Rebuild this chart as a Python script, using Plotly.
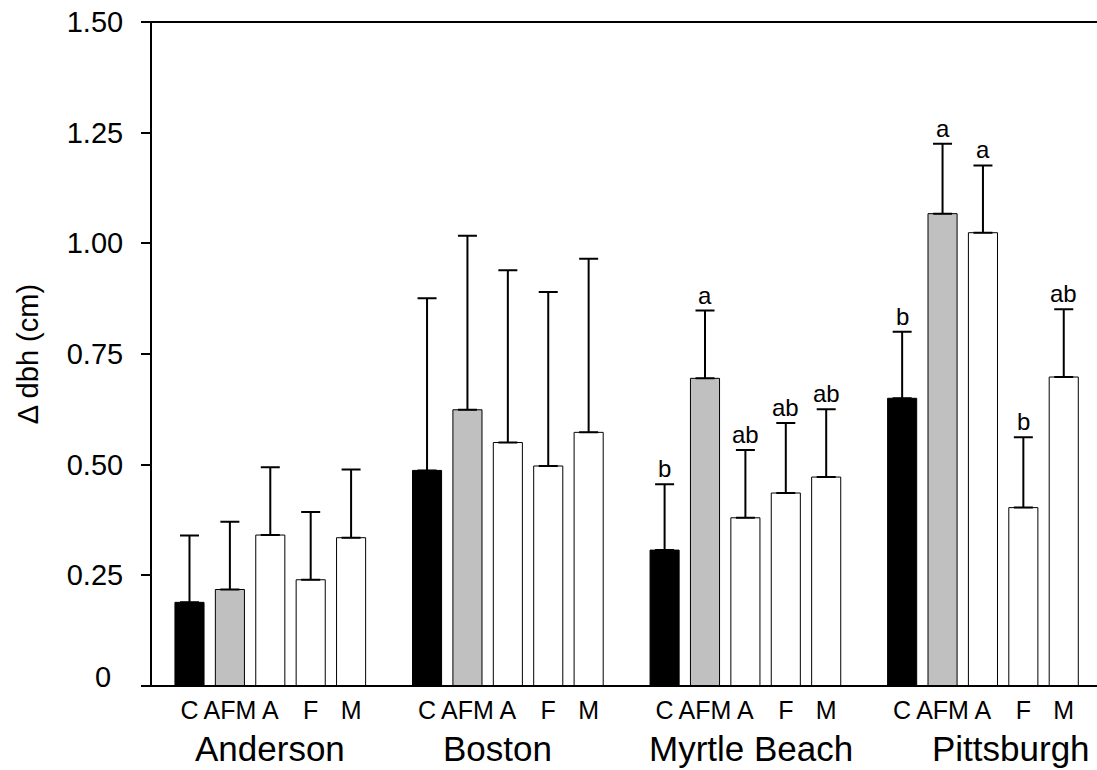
import plotly.graph_objects as go

# Sites and treatments
sites = ["Anderson", "Boston", "Myrtle Beach", "Pittsburgh"]
treatments = ["C", "AFM", "A", "F", "M"]

# Mean change in dbh (cm) per treatment, one value per site
mean_C = [0.189, 0.487, 0.307, 0.650]
mean_AFM = [0.218, 0.624, 0.695, 1.067]
mean_A = [0.341, 0.550, 0.380, 1.024]
mean_F = [0.240, 0.497, 0.436, 0.403]
mean_M = [0.335, 0.573, 0.472, 0.698]

# Upper error (SE) per treatment, one value per site
err_C = [0.151, 0.389, 0.149, 0.150]
err_AFM = [0.153, 0.393, 0.153, 0.158]
err_A = [0.153, 0.389, 0.153, 0.152]
err_F = [0.153, 0.393, 0.158, 0.159]
err_M = [0.154, 0.392, 0.153, 0.153]

# Significance letters (empty = none shown)
letters_C = ["", "", "b", "b"]
letters_AFM = ["", "", "a", "a"]
letters_A = ["", "", "ab", "a"]
letters_F = ["", "", "ab", "b"]
letters_M = ["", "", "ab", "ab"]

# y tick labels
y_ticks = [0, 0.25, 0.50, 0.75, 1.00, 1.25, 1.50]
y_tick_text = ["", "0.25", "0.50", "0.75", "1.00", "1.25", "1.50"]

means = [mean_C, mean_AFM, mean_A, mean_F, mean_M]
errs = [err_C, err_AFM, err_A, err_F, err_M]
letters = [letters_C, letters_AFM, letters_A, letters_F, letters_M]
fills = ["#000000", "#c0c0c0", "#ffffff", "#ffffff", "#ffffff"]

FONT = "Liberation Sans, Arial, sans-serif"
GROUP_STRIDE = 5.88          # distance between site groups, in bar slots
BAR_WIDTH = 0.72
site_label_shift = [0.0, -0.25, 0.15, 0.69]


def bar_pos(site_idx, trt_idx):
    return site_idx * GROUP_STRIDE + trt_idx


fig = go.Figure()

for t, name in enumerate(treatments):
    xs = [bar_pos(s, t) for s in range(len(sites))]
    fig.add_trace(go.Bar(
        x=xs,
        y=means[t],
        width=BAR_WIDTH,
        name=name,
        marker=dict(color=fills[t], line=dict(color="black", width=1)),
        error_y=dict(type="data", symmetric=False, array=errs[t],
                     arrayminus=[0] * len(sites), color="black",
                     thickness=2, width=9.5),
        showlegend=False,
    ))

annotations = []

# letters above the error caps
for t in range(len(treatments)):
    for s in range(len(sites)):
        if letters[t][s]:
            annotations.append(dict(
                x=bar_pos(s, t), y=means[t][s] + errs[t][s],
                xref="x", yref="y", text=letters[t][s], showarrow=False,
                yanchor="bottom", xanchor="center",
                font=dict(family=FONT, size=24, color="black"),
            ))

# site names under the treatment labels
for s, site in enumerate(sites):
    annotations.append(dict(
        x=bar_pos(s, 2) + site_label_shift[s], y=-0.094,
        xref="x", yref="paper", text=site, showarrow=False,
        xanchor="center", yanchor="middle",
        font=dict(family=FONT, size=35, color="black"),
    ))

# zero label sits slightly above the baseline
annotations.append(dict(
    x=-0.041, y=0.014, xref="paper", yref="paper", text="0",
    showarrow=False, xanchor="right", yanchor="middle",
    font=dict(family=FONT, size=29, color="black"),
))

# y-axis title
annotations.append(dict(
    x=-0.131, y=0.5, xref="paper", yref="paper", text="Δ dbh (cm)",
    showarrow=False, textangle=-90, xanchor="center", yanchor="middle",
    font=dict(family=FONT, size=29, color="black"),
))

tick_x = [bar_pos(s, t) for s in range(len(sites)) for t in range(len(treatments))]
tick_txt = [treatments[t] for s in range(len(sites)) for t in range(len(treatments))]

x_left = -0.928
x_right = x_left + 945 / 40.4

fig.update_layout(
    width=1097, height=770,
    margin=dict(l=152, r=0, t=22, b=84),
    paper_bgcolor="white", plot_bgcolor="white",
    barmode="overlay",
    font=dict(family=FONT, color="black"),
    xaxis=dict(
        range=[x_left, x_right], showgrid=False, zeroline=False,
        showline=False, ticks="", tickmode="array",
        tickvals=tick_x, ticktext=tick_txt,
        tickfont=dict(family=FONT, size=25, color="black"),
        ticklabelstandoff=7,
    ),
    yaxis=dict(
        range=[0, 1.5], showgrid=False, zeroline=False,
        showline=True, linecolor="black", linewidth=2,
        ticks="outside", ticklen=9, tickwidth=2, tickcolor="black",
        tickmode="array", tickvals=y_ticks, ticktext=y_tick_text,
        tickfont=dict(family=FONT, size=29, color="black"),
        ticklabelstandoff=12,
    ),
    annotations=annotations,
    shapes=[
        dict(type="line", xref="paper", yref="paper", x0=-9 / 945, x1=1,
             y0=1, y1=1, line=dict(color="black", width=2)),
        dict(type="line", xref="paper", yref="paper", x0=-9 / 945, x1=1,
             y0=0, y1=0, line=dict(color="black", width=2)),
    ],
)

fig.write_html("out.html")
